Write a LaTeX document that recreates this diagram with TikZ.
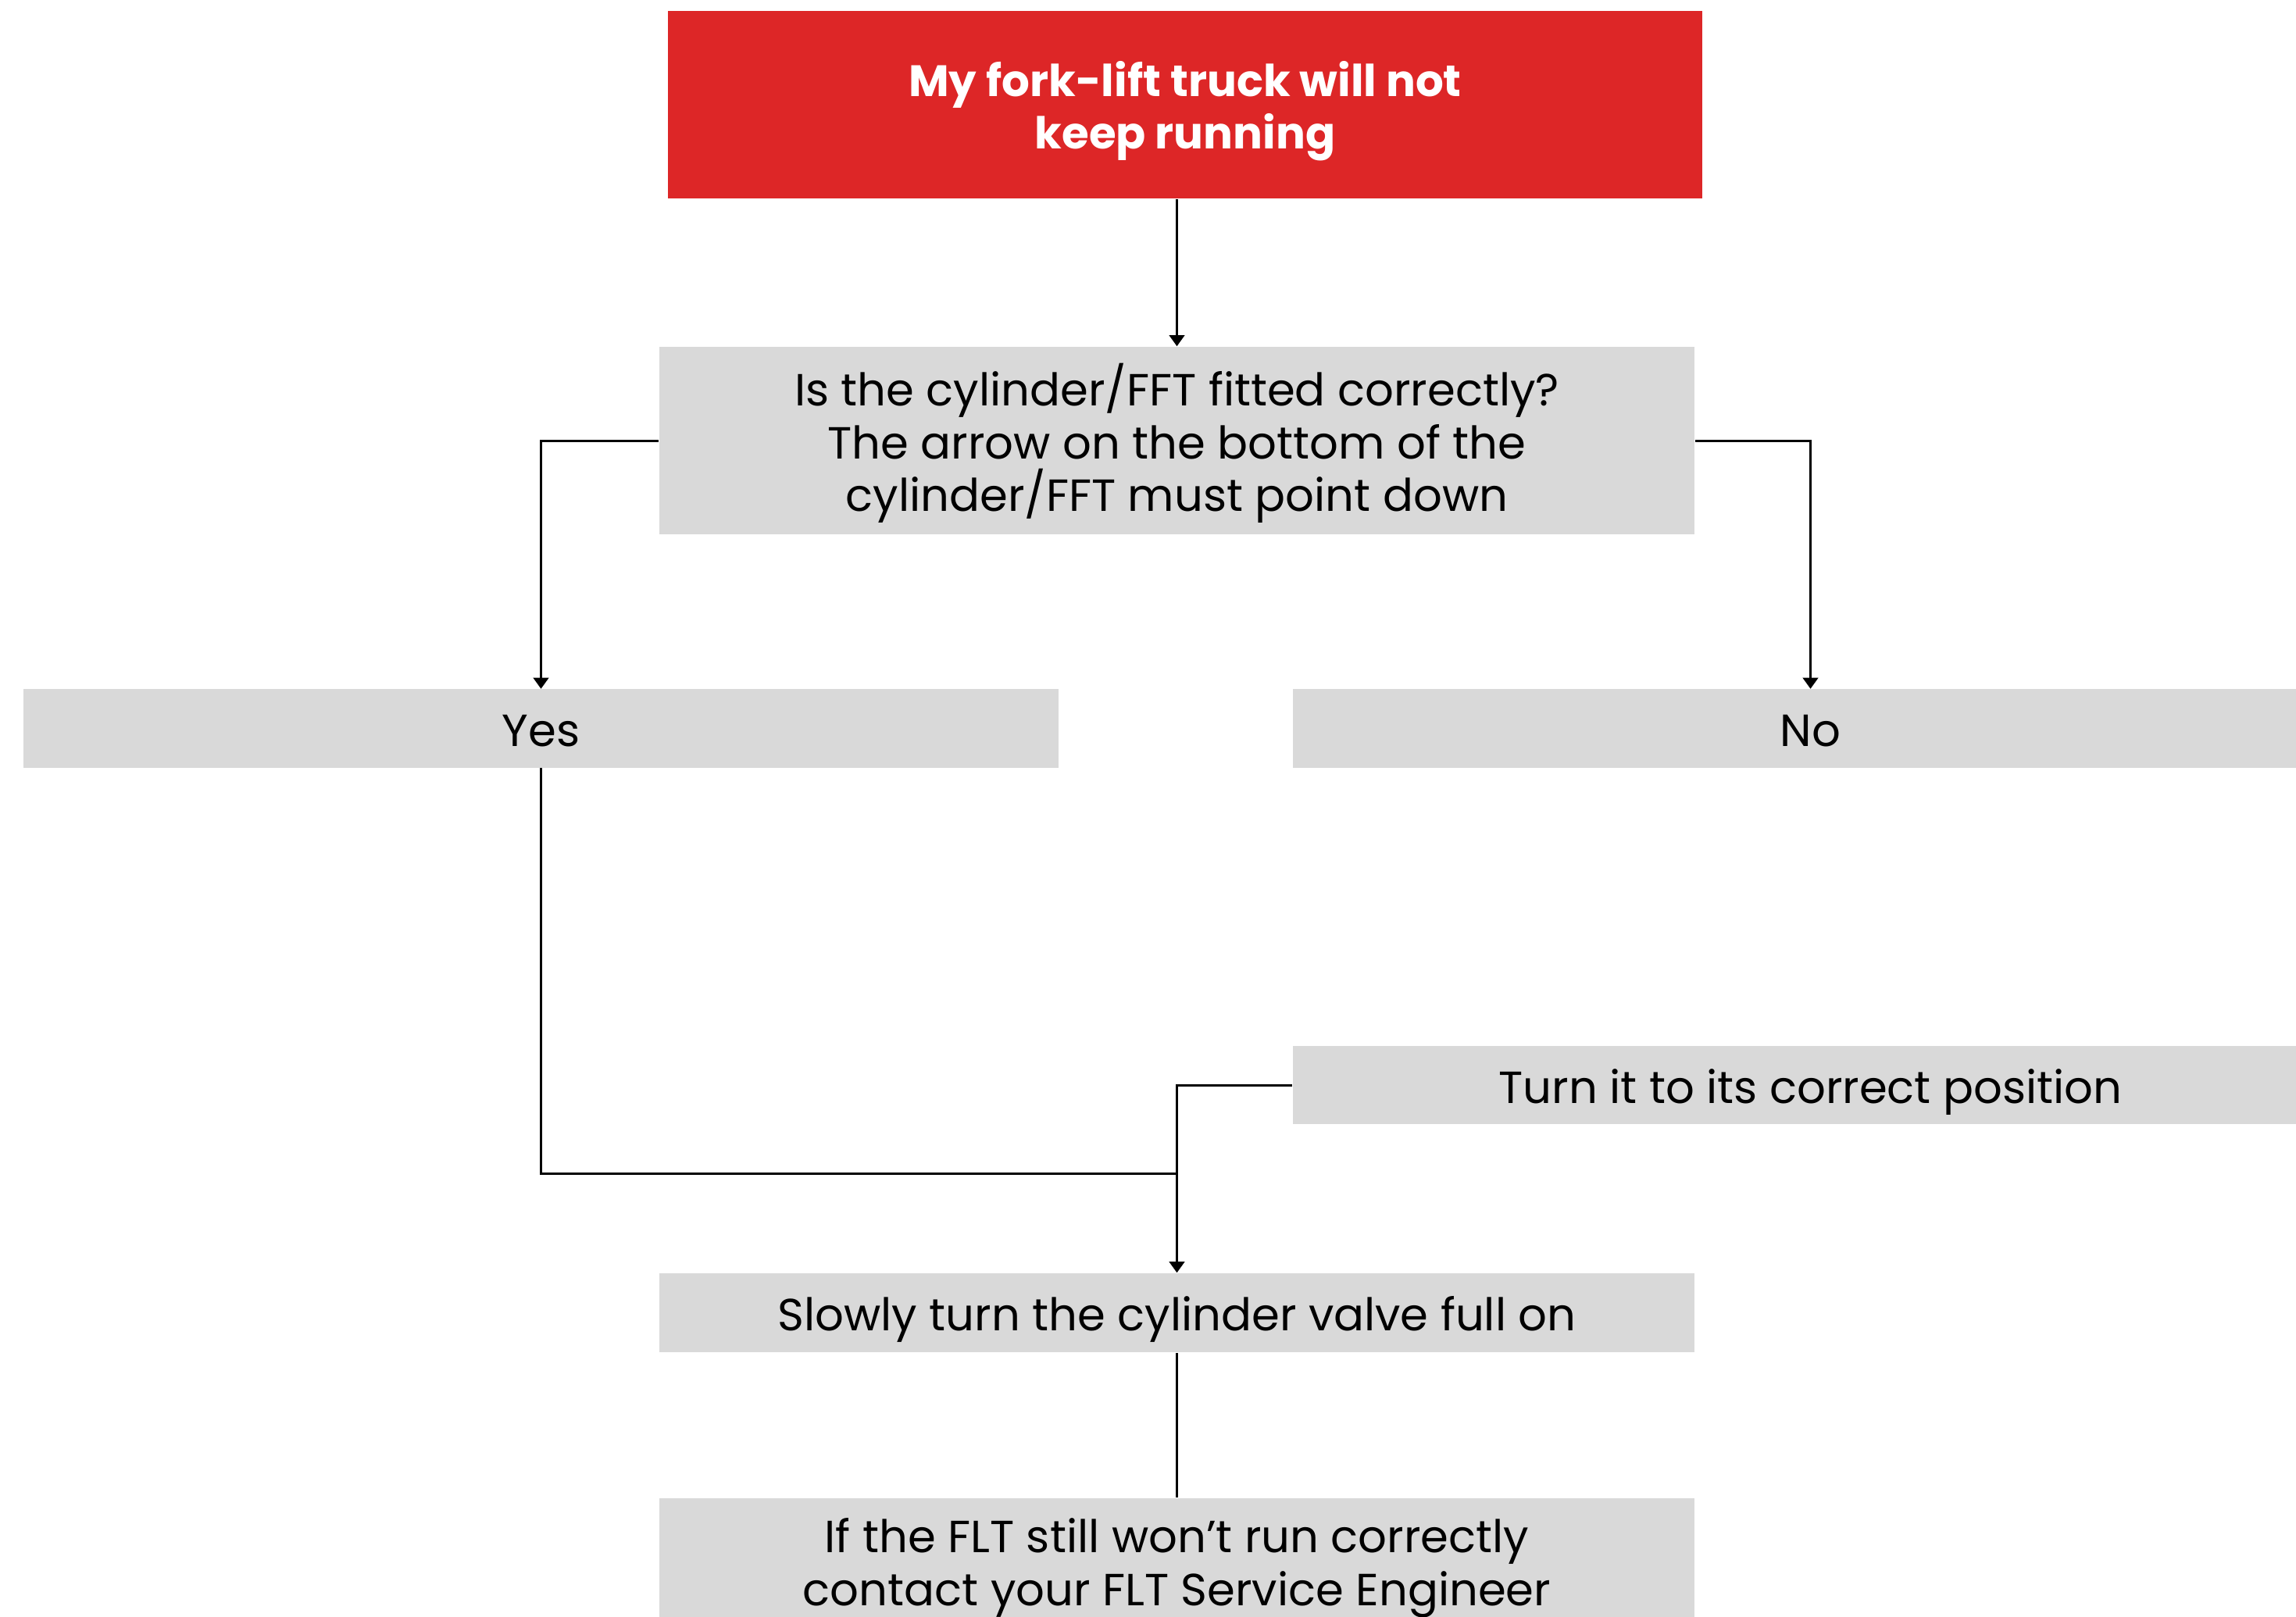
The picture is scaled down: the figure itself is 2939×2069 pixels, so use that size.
\documentclass[tikz,border=0pt]{standalone}
\usepackage{fontspec}
\setmainfont{Poppins}
\usetikzlibrary{arrows.meta}
\definecolor{flred}{RGB}{221,38,39}
\definecolor{flgray}{RGB}{217,217,217}
\newcommand{\boxtext}[1]{\raisebox{-2.8pt}[\height][\depth]{\begin{tabular}{@{}c@{}}#1\end{tabular}}}
\newcommand{\rowS}[1]{\smash{#1}}
\begin{document}
\begin{tikzpicture}[x=0.01cm,y=-0.01cm,
  box/.style={rectangle,fill=flgray,inner sep=0pt,
    font=\fontsize{16.4pt}{19.2pt}\selectfont},
  titlebox/.style={rectangle,fill=flred,inner sep=0pt,text=white,
    font=\fontsize{16pt}{19pt}\selectfont\bfseries},
  conn/.style={line width=0.85pt,black},
  arr/.style={conn,-{Triangle[width=5.5pt,length=4pt]}}]
\useasboundingbox (0,0) rectangle (2939,2069);
\node[titlebox,minimum width=13.24cm,minimum height=2.40cm] (title) at (1517,134)
  {\boxtext{\rowS{My fork-lift truck will not}\\\rowS{keep running}}};
\node[box,minimum width=13.25cm,minimum height=2.40cm] (q) at (1506.5,564)
  {\boxtext{\rowS{Is the cylinder/FFT fitted correctly?}\\\rowS{The arrow on the bottom of the}\\\rowS{cylinder/FFT must point down}}};
\node[box,minimum width=13.25cm,minimum height=1.00cm] (yes) at (692.5,932.5) {\boxtext{\rowS{Yes}}};
\node[box,minimum width=13.25cm,minimum height=1.00cm] (no) at (2317.5,932.5) {\boxtext{\rowS{No}}};
\node[box,minimum width=13.25cm,minimum height=1.00cm] (turn) at (2317.5,1389) {\boxtext{\rowS{Turn it to its correct position}}};
\node[box,minimum width=13.25cm,minimum height=1.01cm] (slow) at (1506.5,1680.5) {\boxtext{\rowS{Slowly turn the cylinder valve full on}}};
\node[box,minimum width=13.25cm,minimum height=1.60cm] (last) at (1506.5,1998)
  {\boxtext{\rowS{If the FLT still won’t run correctly}\\\rowS{contact your FLT Service Engineer}}};
\coordinate (merge) at (1506.5,1502);
\draw[arr] (q.north |- title.south) -- (q.north);
\draw[arr] (q.west) -| (yes.north);
\draw[arr] (q.east) -| (no.north);
\draw[conn] (yes.south) |- (merge);
\draw[arr] (turn.west) -| (slow.north);
\draw[conn] (slow.south) -- (last.north);
\end{tikzpicture}
\end{document}
